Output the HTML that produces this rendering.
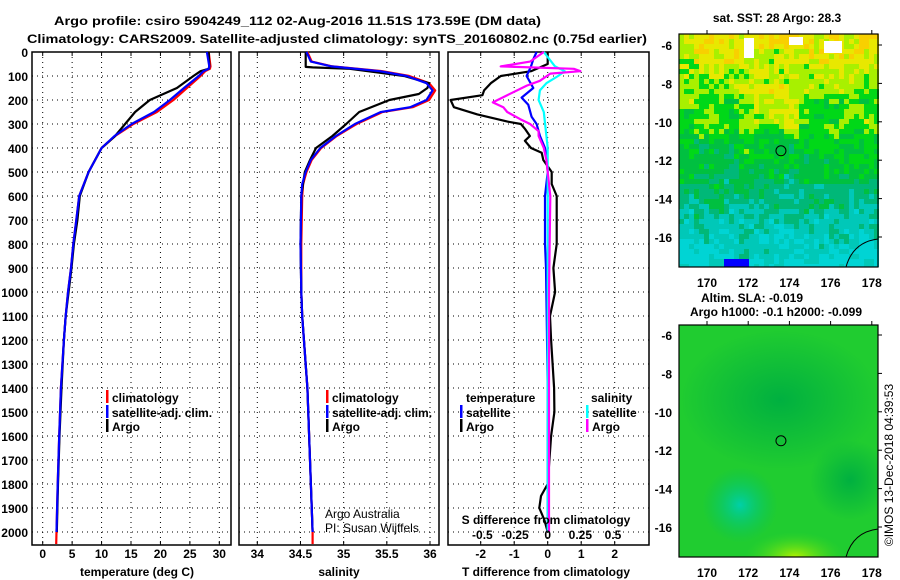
<!DOCTYPE html>
<html><head><meta charset="utf-8"><style>
html,body{margin:0;padding:0;background:#fff;}
svg{display:block;font-family:"Liberation Sans",sans-serif;}
.t{font-weight:bold;font-size:12px;fill:#000;}
</style></head><body>
<svg id="fig" width="900" height="580" viewBox="0 0 900 580">
<text class="t" x="54" y="25" font-size="13" textLength="487" lengthAdjust="spacingAndGlyphs">Argo profile: csiro 5904249_112 02-Aug-2016 11.51S 173.59E (DM data)</text>
<text class="t" x="27" y="43" font-size="13" textLength="620" lengthAdjust="spacingAndGlyphs">Climatology: CARS2009. Satellite-adjusted climatology: synTS_20160802.nc (0.75d earlier)</text>
<g id="panels"></g>
<g id="maps"></g>
<text x="0" y="0" transform="translate(893,465) rotate(-90)" text-anchor="middle" font-size="12">©IMOS 13-Dec-2018 04:39:53</text>
</svg>
<script>
// ---- data ----
const depthTArgo = [0,60,70,80,100,150,200,250,300,350,400,450,500,600,700,800,900,1000,1100,1200,1400,1600,1800,2000];
const tempArgo   = [28.2,28.3,28.2,26.8,25.6,22.8,18.2,15.7,14.0,12.3,10.0,8.9,7.8,6.3,5.9,5.3,4.9,4.4,3.9,3.6,3.2,2.85,2.6,2.4];
const depthTClim = [0,60,70,80,100,150,200,250,300,350,400,450,500,600,700,800,900,1000,1100,1200,1400,1600,1800,2000,2050];
const tempClim   = [28.2,28.5,28.4,27.6,26.8,24.5,22.2,19.4,15.4,12.3,10.0,8.9,7.8,6.2,5.7,5.2,4.8,4.3,3.9,3.6,3.1,2.8,2.55,2.35,2.3];
const tempSat    = [27.9,28.3,28.2,27.3,26.5,24.0,21.6,18.9,15.1,12.2,10.0,8.9,7.8,6.2,5.7,5.2,4.8,4.3,3.9,3.6,3.1,2.8,2.55,2.35];

const depthSArgo = [0,62,64,70,100,130,150,175,200,250,300,350,400,450,500,600,800,1000,1100,1400,1700,2000];
const salArgo    = [34.56,34.56,34.64,35.07,35.70,35.99,35.97,35.87,35.53,35.18,35.03,34.87,34.68,34.61,34.55,34.51,34.50,34.51,34.52,34.58,34.61,34.64];
const depthSClim = [0,40,60,80,100,130,160,200,230,250,300,350,400,450,500,550,600,800,1000,1100,1400,1700,2000,2050];
const salClim    = [34.58,34.63,34.87,35.45,35.76,35.99,36.06,35.99,35.8,35.45,35.15,34.92,34.74,34.63,34.57,34.53,34.52,34.51,34.51,34.52,34.58,34.61,34.64,34.64];
const salSat     = [34.57,34.62,34.86,35.42,35.73,35.96,36.03,35.96,35.77,35.43,35.13,34.91,34.73,34.62,34.56,34.52,34.51,34.50,34.51,34.52,34.58,34.61,34.64];

const depthDT = [0,50,80,100,130,160,180,200,230,260,290,300,320,350,370,400,420,450,500,550,600,700,800,900,1000,1100,1200,1400,1500,1600,1700,1800,1850,1900,1950,2000];
const tDiffArgo = [0,0,-0.5,-1.4,-1.7,-1.9,-1.95,-2.9,-2.8,-2.1,-1.2,-0.8,-0.68,-0.53,-0.68,-0.5,-0.18,-0.13,0.12,0.12,0.27,0.27,0.27,0.17,0.22,0.07,0.1,0.19,0.2,0.1,0.05,0,-0.2,-0.25,-0.1,0];
const depthDTS = [0,30,60,100,150,190,220,270,300,350,400,450,500,600,800,900,1100,1400,2000];
const tDiffSat = [-0.33,-0.43,-0.5,-0.63,-0.43,-0.78,-0.58,-0.48,-0.33,-0.23,-0.08,-0.03,0,-0.08,-0.08,-0.05,-0.03,0,0];
const depthDSS = [0,60,80,100,130,160,200,250,300,350,400,500,1000,2000];
const sDiffSat = [-0.03,0.056,0.13,0.08,-0.01,-0.06,-0.07,-0.03,-0.02,-0.01,0,0,0,0];
const depthDSA = [0,40,60,70,80,90,120,140,180,210,230,250,280,300,330,350,400,450,500,600,1000,2000];
const sDiffArgo = [-0.03,-0.135,-0.36,0.2,0.25,0.02,-0.06,-0.16,-0.31,-0.42,-0.34,-0.31,-0.21,-0.135,-0.07,-0.07,-0.03,-0.01,0,0.02,0.01,0.01];

const depthTicks = [0,100,200,300,400,500,600,700,800,900,1000,1100,1200,1300,1400,1500,1600,1700,1800,1900,2000];
const tempTicks = [0,5,10,15,20,25,30];
const salTicks = [34,34.5,35,35.5,36];
const salTickLabels = ["34","34.5","35","35.5","36"];
const tdTicks = [-2,-1,0,1,2];
const sdTicks = [-0.5,-0.25,0,0.25,0.5];
const sdTickLabels = ["-0.5","-0.25","0","0.25","0.5"];
const latTicks = [-6,-8,-10,-12,-14,-16];
const lonTicks = [170,172,174,176,178];

// ---- helpers ----
const NS="http://www.w3.org/2000/svg";
function mk(tag,attrs,parent){const e=document.createElementNS(NS,tag);for(const k in attrs)e.setAttribute(k,attrs[k]);parent.appendChild(e);return e;}
const TOP=52, BOT=545;
const yD = d => TOP + d*0.24;
const P1={l:32,r:231}, P2={l:239,r:439}, P3={l:448,r:649};
const xT = v => 42.7 + v*5.887;
const xS = v => 257.3 + (v-34)*86.35;
const xTD = v => 547.7 + v*33.5;
const xSD = v => 547.7 + v*130.6;
const G=document.getElementById('panels');

function frame(P,name){
  const r=mk('rect',{x:P.l,y:TOP,width:P.r-P.l,height:BOT-TOP,fill:'none',stroke:'#000','stroke-width':1.5},G);
  
  
  depthTicks.forEach(d=>{
    const l=mk('line',{x1:P.l,x2:P.r,y1:yD(d),y2:yD(d),stroke:'#000','stroke-width':1,'stroke-dasharray':'1,4'},G);
    
    
  });
}
function vgrid(vals,fx,P){
  vals.forEach(v=>{
    const l=mk('line',{x1:fx(v),x2:fx(v),y1:TOP,y2:BOT,stroke:'#000','stroke-width':1,'stroke-dasharray':'1,4'},G);
    
    
    mk('line',{x1:fx(v),x2:fx(v),y1:TOP,y2:TOP+4,stroke:'#000'},G);
    mk('line',{x1:fx(v),x2:fx(v),y1:BOT,y2:BOT-4,stroke:'#000'},G);
  });
}
function line(ds,vs,fx,color,name,P){
  const pts=vs.map((v,i)=>Math.min(Math.max(fx(v),P.l),P.r).toFixed(1)+','+yD(ds[i]).toFixed(1)).join(' ');
  const p=mk('polyline',{points:pts,fill:'none',stroke:color,'stroke-width':2.2,'stroke-linejoin':'round'},G);
  
  
}
function txt(x,y,s,opts,name){
  const t=mk('text',Object.assign({x:x,y:y,class:'t'},opts||{}),G);
  t.textContent=s;
  
  
  return t;
}
function legend(x,y,color,label,name){
  mk('rect',{x:x,y:y-7,width:2.5,height:13,fill:color},G);
  txt(x+6,y+5,label,{},name);
}

// Panel 1
frame(P1,'temperature-panel');
vgrid(tempTicks,xT,P1);
line(depthTClim,tempClim,xT,'#ff0000','temperature-climatology-line',P1);
line(depthTArgo,tempArgo,xT,'#000000','temperature-argo-line',P1);
line(depthTClim.slice(0,tempSat.length),tempSat,xT,'#0000ff','temperature-satellite-line',P1);
depthTicks.forEach(d=>{txt(28,yD(d)+5,String(d),{'text-anchor':'end'},'depth-tick-label');});
tempTicks.forEach(v=>{txt(xT(v),558,String(v),{'text-anchor':'middle'},'temperature-tick-label');});
txt(137,576,'temperature (deg C)',{'text-anchor':'middle'},'temperature-axis-title');
legend(106,397,'#ff0000','climatology','legend-climatology');
legend(106,412,'#0000ff','satellite-adj. clim.','legend-satellite-adj');
legend(106,426,'#000000','Argo','legend-argo');

// Panel 2
frame(P2,'salinity-panel');
vgrid(salTicks,xS,P2);
line(depthSClim,salClim,xS,'#ff0000','salinity-climatology-line',P2);
line(depthSArgo,salArgo,xS,'#000000','salinity-argo-line',P2);
line(depthSClim.slice(0,salSat.length),salSat,xS,'#0000ff','salinity-satellite-line',P2);
salTicks.forEach((v,i)=>{txt(xS(v),558,salTickLabels[i],{'text-anchor':'middle'},'salinity-tick-label');});
txt(339,576,'salinity',{'text-anchor':'middle'},'salinity-axis-title');
legend(326,397,'#ff0000','climatology','legend-s-climatology');
legend(326,412,'#0000ff','satellite-adj. clim.','legend-s-satellite-adj');
legend(326,426,'#000000','Argo','legend-s-argo');
txt(325,518,'Argo Australia',{style:'font-weight:normal'},'credit-argo-australia');
txt(325,532,'PI: Susan Wijffels',{style:'font-weight:normal'},'credit-pi');

// Panel 3
frame(P3,'difference-panel');
vgrid(tdTicks,xTD,P3);
line(depthDT,tDiffArgo,xTD,'#000000','t-diff-argo-line',P3);
line(depthDTS,tDiffSat,xTD,'#0000ff','t-diff-satellite-line',P3);
line(depthDSS,sDiffSat,xSD,'#00ffff','s-diff-satellite-line',P3);
line(depthDSA,sDiffArgo,xSD,'#ff00ff','s-diff-argo-line',P3);
tdTicks.forEach(v=>{txt(xTD(v),558,String(v),{'text-anchor':'middle'},'t-diff-tick-label');});
sdTicks.forEach((v,i)=>{txt(xSD(v),539,sdTickLabels[i],{'text-anchor':'middle'},'s-diff-tick-label');});
txt(546,524,'S difference from climatology',{'text-anchor':'middle'},'s-diff-axis-title');
txt(546,576,'T difference from climatology',{'text-anchor':'middle'},'t-diff-axis-title');
txt(466,402,'temperature',{},'legend-temperature-heading');
legend(460,412,'#0000ff','satellite','legend-t-satellite');
legend(460,426,'#000000','Argo','legend-t-argo');
txt(591,402,'salinity',{},'legend-salinity-heading');
legend(586,412,'#00ffff','satellite','legend-s-satellite');
legend(586,426,'#ff00ff','Argo','legend-s-argo-diff');

// ---- maps ----
const M=document.getElementById('maps');
function mtxt(x,y,s,anchor,name){
  const t=mk('text',{x:x,y:y,class:'t','text-anchor':anchor},M);
  t.textContent=s;
  
  
}
function mapAxes(top,bot,lat6,lat16,name){
  const L=679,R=878;
  const ly=v=>lat6+(-6-v)*(lat16-lat6)/10;
  const lx=v=>707+(v-170)*20.6;
  const r=mk('rect',{x:L,y:top,width:R-L,height:bot-top,fill:'none',stroke:'#000','stroke-width':1.2},M);
  
  
  latTicks.forEach(v=>{mtxt(672,ly(v)+5,String(v),'end','map-lat-label');
    mk('line',{x1:R,x2:R+4,y1:ly(v),y2:ly(v),stroke:'#000'},M);});
  lonTicks.forEach(v=>{mtxt(lx(v),bot+20,String(v),'middle','map-lon-label');
    mk('line',{x1:lx(v),x2:lx(v),y1:top,y2:top-4,stroke:'#000'},M);});
  const c=mk('circle',{cx:lx(173.59),cy:ly(-11.51),r:5,fill:'none',stroke:'#000','stroke-width':1},M);
  
  
  mk('path',{d:`M${R-32} ${bot} Q${R-25} ${bot-25} ${R} ${bot-28}`,fill:'none',stroke:'#000'},M);
}
// SST map cells (cosmetic texture)
(function(){
  const L=679,T=34,W=199,H=233,cs=5;
  const pal=['#00d4d4','#00c8b8','#00b878','#00c040','#00d818','#a8f000','#e8e800','#f8d000'];
  const g=mk('g',{},M);
  
  
  for(let j=0;j<Math.ceil(H/cs);j++){
    const f=j*cs/H;
    let base = 6.2 - f*6.2;
    for(let i=0;i<Math.ceil(W/cs);i++){
      const h=Math.sin(i*12.9898+j*78.233)*43758.5453; const n=(h-Math.floor(h))*2-1;
      const h2=Math.sin(Math.floor(i/3)*3.17+Math.floor(j/3)*9.71)*9137.31; const n2=(h2-Math.floor(h2))*2-1;
      let b=base;
      const fx=i*cs/W;
      if(f>0.2&&f<0.4&&fx>0.3&&fx<0.6) b+=1.0;
      if(f>0.35&&f<0.75) b+=0.2;
      let v=Math.round(b+n*0.8+n2*0.6); v=Math.max(0,Math.min(7,v));
      mk('rect',{x:L+i*cs,y:T+j*cs,width:cs,height:Math.min(cs,H-j*cs),fill:pal[v]},g);
    }
  }
  mk('rect',{x:L+65,y:T+4,width:10,height:20,fill:'#fff'},g);
  mk('rect',{x:L+145,y:T+7,width:18,height:12,fill:'#fff'},g);
  mk('rect',{x:L+110,y:T+3,width:14,height:8,fill:'#fff'},g);
  mk('rect',{x:L+45,y:T+225,width:25,height:8,fill:'#0000ff'},g);
})();
mapAxes(34,267,45,237,'sst-map');
mtxt(777,22,'sat. SST: 28 Argo: 28.3','middle','sst-map-title');

// SLA map
(function(){
  const defs=mk('defs',{},M);
  const cp=mk('clipPath',{id:'slaclip'},defs);
  mk('rect',{x:679,y:325,width:199,height:232},cp);
  const rg=mk('radialGradient',{id:'cyb'},defs);
  mk('stop',{offset:'0','stop-color':'#00d0a8'},rg);mk('stop',{offset:'1','stop-color':'#00c060','stop-opacity':0},rg);
  const yg=mk('radialGradient',{id:'ylw'},defs);
  mk('stop',{offset:'0','stop-color':'#b0f000'},yg);mk('stop',{offset:'1','stop-color':'#40d820','stop-opacity':0},yg);
  const dg=mk('radialGradient',{id:'drk'},defs);
  mk('stop',{offset:'0','stop-color':'#00b040'},dg);mk('stop',{offset:'1','stop-color':'#00b040','stop-opacity':0},dg);
  const g=mk('g',{'clip-path':'url(#slaclip)'},M);
  
  
  mk('rect',{x:679,y:325,width:199,height:232,fill:'#20cc30'},g);
  mk('ellipse',{cx:780,cy:400,rx:100,ry:70,fill:'url(#drk)'},g);
  mk('ellipse',{cx:850,cy:480,rx:40,ry:40,fill:'url(#drk)'},g);
  mk('ellipse',{cx:740,cy:505,rx:38,ry:38,fill:'url(#cyb)'},g);
  mk('ellipse',{cx:795,cy:557,rx:50,ry:25,fill:'url(#ylw)'},g);
})();
mapAxes(325,557,335,527,'sla-map');
mtxt(752,302,'Altim. SLA: -0.019','middle','sla-map-title');
mtxt(776,316,'Argo h1000: -0.1 h2000: -0.099','middle','sla-map-subtitle');
</script>
</body></html>
